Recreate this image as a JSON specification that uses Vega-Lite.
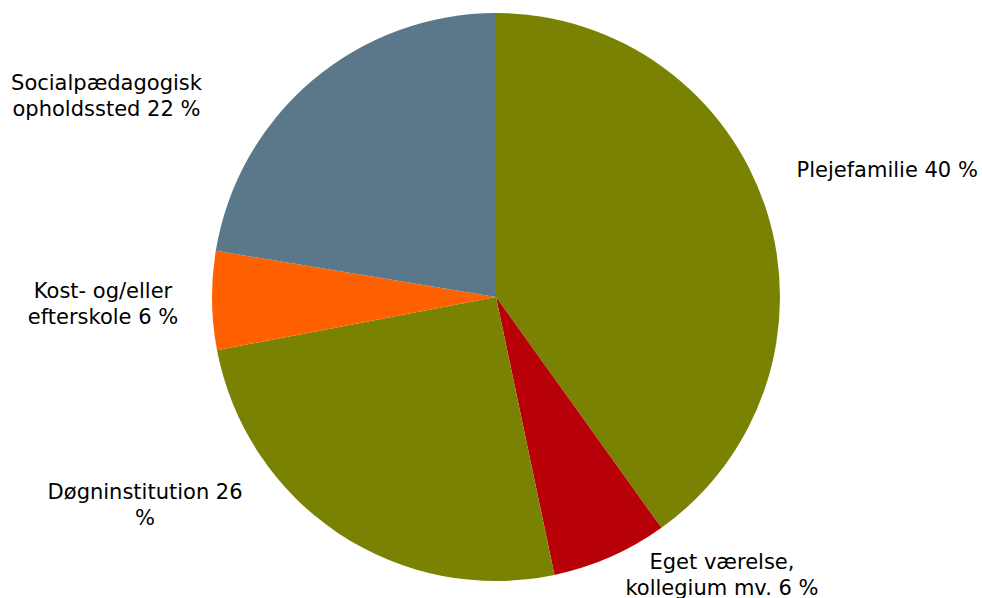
{
  "$schema": "https://vega.github.io/schema/vega-lite/v6.json",
  "width": 972,
  "height": 594,
  "autosize": {"type": "none"},
  "padding": {"left": 10, "top": 0, "right": 0, "bottom": 4},
  "background": "white",
  "view": {"stroke": null},
  "data": {
    "values": [
      {"order": 1, "category": "Plejefamilie", "value": 40.1, "label": "Plejefamilie 40 %"},
      {"order": 2, "category": "Eget værelse", "value": 6.6, "label": "Eget værelse,\nkollegium mv. 6 %"},
      {"order": 3, "category": "Døgninstitution", "value": 25.3, "label": "Døgninstitution 26\n%"},
      {"order": 4, "category": "Kost", "value": 5.6, "label": "Kost- og/eller\nefterskole 6 %"},
      {"order": 5, "category": "Social", "value": 22.4, "label": "Socialpædagogisk\nopholdssted 22 %"}
    ]
  },
  "encoding": {
    "theta": {"field": "value", "type": "quantitative", "stack": true},
    "order": {"field": "order", "type": "quantitative"}
  },
  "layer": [
    {
      "mark": {"type": "arc", "outerRadius": 284, "stroke": null},
      "encoding": {
        "color": {
          "field": "category",
          "type": "nominal",
          "scale": {
            "domain": ["Plejefamilie", "Eget værelse", "Døgninstitution", "Kost", "Social"],
            "range": ["#7a8204", "#b80008", "#7a8204", "#ff6100", "#5a7889"]
          },
          "legend": null
        }
      }
    },
    {
      "mark": {"type": "text", "radius": 330, "dx": 77, "dy": -25, "font": "DejaVu Sans", "fontSize": 21, "lineHeight": 26, "align": "center", "baseline": "middle", "lineBreak": "\n", "color": "#000000"},
      "encoding": {"text": {"condition": {"test": "datum.category === 'Plejefamilie'", "field": "label"}, "value": ""}}
    },
    {
      "mark": {"type": "text", "radius": 330, "dx": 93, "dy": -36, "font": "DejaVu Sans", "fontSize": 21, "lineHeight": 26, "align": "center", "baseline": "middle", "lineBreak": "\n", "color": "#000000"},
      "encoding": {"text": {"condition": {"test": "datum.category === 'Eget værelse'", "field": "label"}, "value": ""}}
    },
    {
      "mark": {"type": "text", "radius": 330, "dx": -168, "dy": -79, "font": "DejaVu Sans", "fontSize": 21, "lineHeight": 26, "align": "center", "baseline": "middle", "lineBreak": "\n", "color": "#000000"},
      "encoding": {"text": {"condition": {"test": "datum.category === 'Døgninstitution'", "field": "label"}, "value": ""}}
    },
    {
      "mark": {"type": "text", "radius": 330, "dx": -63, "dy": -9, "font": "DejaVu Sans", "fontSize": 21, "lineHeight": 26, "align": "center", "baseline": "middle", "lineBreak": "\n", "color": "#000000"},
      "encoding": {"text": {"condition": {"test": "datum.category === 'Kost'", "field": "label"}, "value": ""}}
    },
    {
      "mark": {"type": "text", "radius": 330, "dx": -176, "dy": 39, "font": "DejaVu Sans", "fontSize": 21, "lineHeight": 26, "align": "center", "baseline": "middle", "lineBreak": "\n", "color": "#000000"},
      "encoding": {"text": {"condition": {"test": "datum.category === 'Social'", "field": "label"}, "value": ""}}
    }
  ]
}
